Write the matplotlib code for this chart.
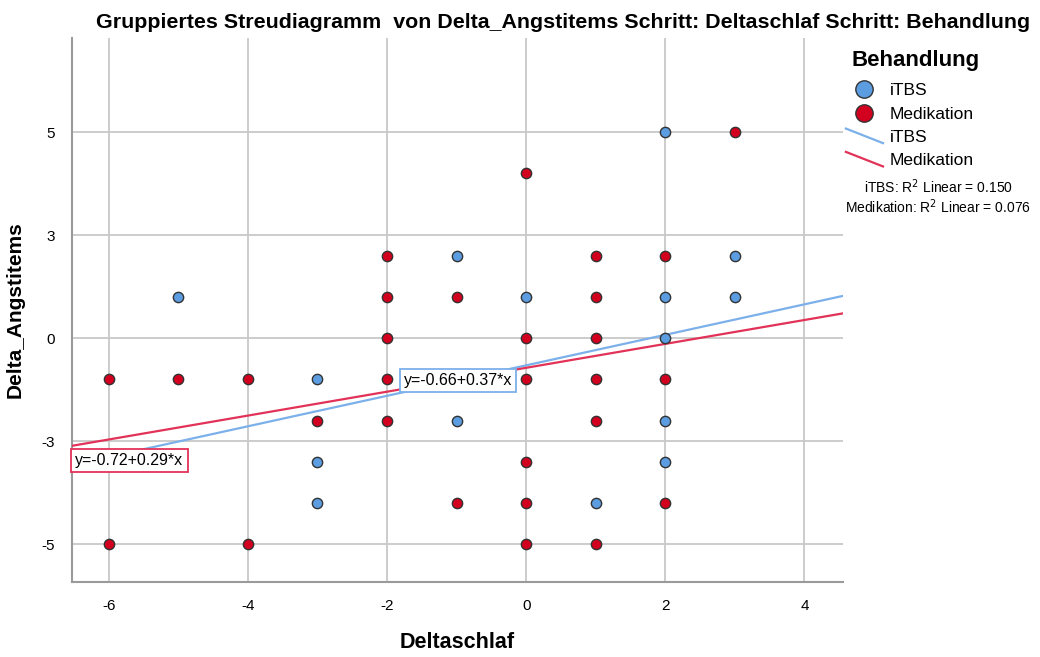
import numpy as np
import matplotlib
matplotlib.use("Agg")
import matplotlib.pyplot as plt
from matplotlib.lines import Line2D
from matplotlib.legend_handler import HandlerBase

plt.rcParams['font.family'] = ['Liberation Sans', 'DejaVu Sans']
plt.rcParams['axes.unicode_minus'] = False

# data: (Deltaschlaf, Delta_Angstitems)
itbs_x = [-5, -3, -3, -3, -1, -1, 0, 1, 2, 2, 2, 2, 2, 3, 3]
itbs_y = [1, -1, -3, -4, 2, -2, 1, -4, 5, 1, 0, -2, -3, 2, 1]
med_x = [-6, -6, -5, -4, -4, -3,
         -2, -2, -2, -2, -2,
         -1, -1,
         0, 0, 0, 0, 0, 0,
         1, 1, 1, 1, 1, 1,
         2, 2, 2, 3]
med_y = [-1, -5, -1, -1, -5, -2,
         2, 1, 0, -1, -2,
         1, -4,
         4, 0, -1, -3, -4, -5,
         2, 1, 0, -1, -2, -5,
         2, -1, -4, 5]

# fitted lines as reported in the chart
itbs_fit = (-0.66, 0.37)
med_fit = (-0.72, 0.29)
r2_itbs = 0.150
r2_med = 0.076

blue = '#5b9de0'
red = '#d2001e'
blue_line = '#7cb0ea'
red_line = '#e23258'


class DiagHandler(HandlerBase):
    # legend line drawn as a short falling diagonal, like SPSS does
    def create_artists(self, legend, orig_handle, xdescent, ydescent,
                       width, height, fontsize, trans):
        x0, x1 = -xdescent - 4, -xdescent + width + 4
        y0, y1 = -ydescent + height * 1.1, -ydescent - height * 0.1
        ln = Line2D([x0, x1], [y0, y1], color=orig_handle.get_color(),
                    lw=orig_handle.get_linewidth(), transform=trans)
        return [ln]


fig = plt.figure(figsize=(10.4, 6.57), dpi=100)
ax = fig.add_axes([0.069, 0.114, 0.742, 0.828])

xmin, xmax = -6.53, 4.56
ax.set_xlim(xmin, xmax)
ax.set_ylim(-5.92, 7.28)

xs = np.array([xmin, xmax])
ax.plot(xs, itbs_fit[0] + itbs_fit[1] * xs, color=blue_line, lw=1.6, zorder=3)
ax.plot(xs, med_fit[0] + med_fit[1] * xs, color=red_line, lw=1.6, zorder=3)

ax.scatter(itbs_x, itbs_y, s=55, color=blue, edgecolors='#333333', linewidths=1.0, zorder=4)
ax.scatter(med_x, med_y, s=55, color=red, edgecolors='#333333', linewidths=1.0, zorder=4)

ax.text(-0.98, -1.04, 'y=-0.66+0.37*x', ha='center', va='center', fontsize=11.5, zorder=5,
        bbox=dict(boxstyle='square,pad=0.25', fc='white', ec=blue_line, lw=1.3))
ax.text(-5.7, -2.96, 'y=-0.72+0.29*x', ha='center', va='center', fontsize=11.5, zorder=5,
        bbox=dict(boxstyle='square,pad=0.25', fc='white', ec=red_line, lw=1.3))

ax.set_xticks([-6, -4, -2, 0, 2, 4])
ax.set_yticks([-5, -2.5, 0, 2.5, 5])
ax.set_yticklabels(['-5', '-3', '0', '3', '5'])
ax.tick_params(length=0, labelsize=11, pad=12)
ax.grid(True, color='#c8c8c8', lw=1.3)
ax.set_axisbelow(True)
for s in ['top', 'right']:
    ax.spines[s].set_visible(False)
for s in ['left', 'bottom']:
    ax.spines[s].set_color('#9a9a9a')
    ax.spines[s].set_linewidth(1.5)

ax.set_xlabel('Deltaschlaf', fontsize=15.5, fontweight='bold', labelpad=14)
ax.set_ylabel('Delta_Angstitems', fontsize=15, fontweight='bold', labelpad=12)
fig.text(0.541, 0.965, 'Gruppiertes Streudiagramm  von Delta_Angstitems Schritt: Deltaschlaf Schritt: Behandlung',
         ha='center', va='center', fontsize=15.4, fontweight='bold')

handles = [
    Line2D([], [], ls='none', marker='o', ms=12.5, mfc=blue, mec='#333333', mew=1.0),
    Line2D([], [], ls='none', marker='o', ms=12.5, mfc=red, mec='#333333', mew=1.0),
    Line2D([], [], color=blue_line, lw=1.6),
    Line2D([], [], color=red_line, lw=1.6),
]
labels = ['iTBS', 'Medikation', 'iTBS', 'Medikation']
leg = fig.legend(handles, labels, loc='upper left', bbox_to_anchor=(0.812, 0.935),
                 frameon=False, fontsize=12.5, title='Behandlung', handlelength=1.5,
                 handletextpad=0.7, labelspacing=0.47, borderaxespad=0,
                 handler_map={handles[2]: DiagHandler(), handles[3]: DiagHandler()})
leg.get_title().set_fontweight('bold')
leg.get_title().set_fontsize(16)
leg._legend_box.align = 'left'
# push the entries a little further below the title
leg._legend_box.sep = 9

fig.text(0.902, 0.716, 'iTBS: R$^2$ Linear = %.3f' % r2_itbs, ha='center', va='center', fontsize=10)
fig.text(0.902, 0.686, 'Medikation: R$^2$ Linear = %.3f' % r2_med, ha='center', va='center', fontsize=10)

fig.savefig('out.png', dpi=100)
